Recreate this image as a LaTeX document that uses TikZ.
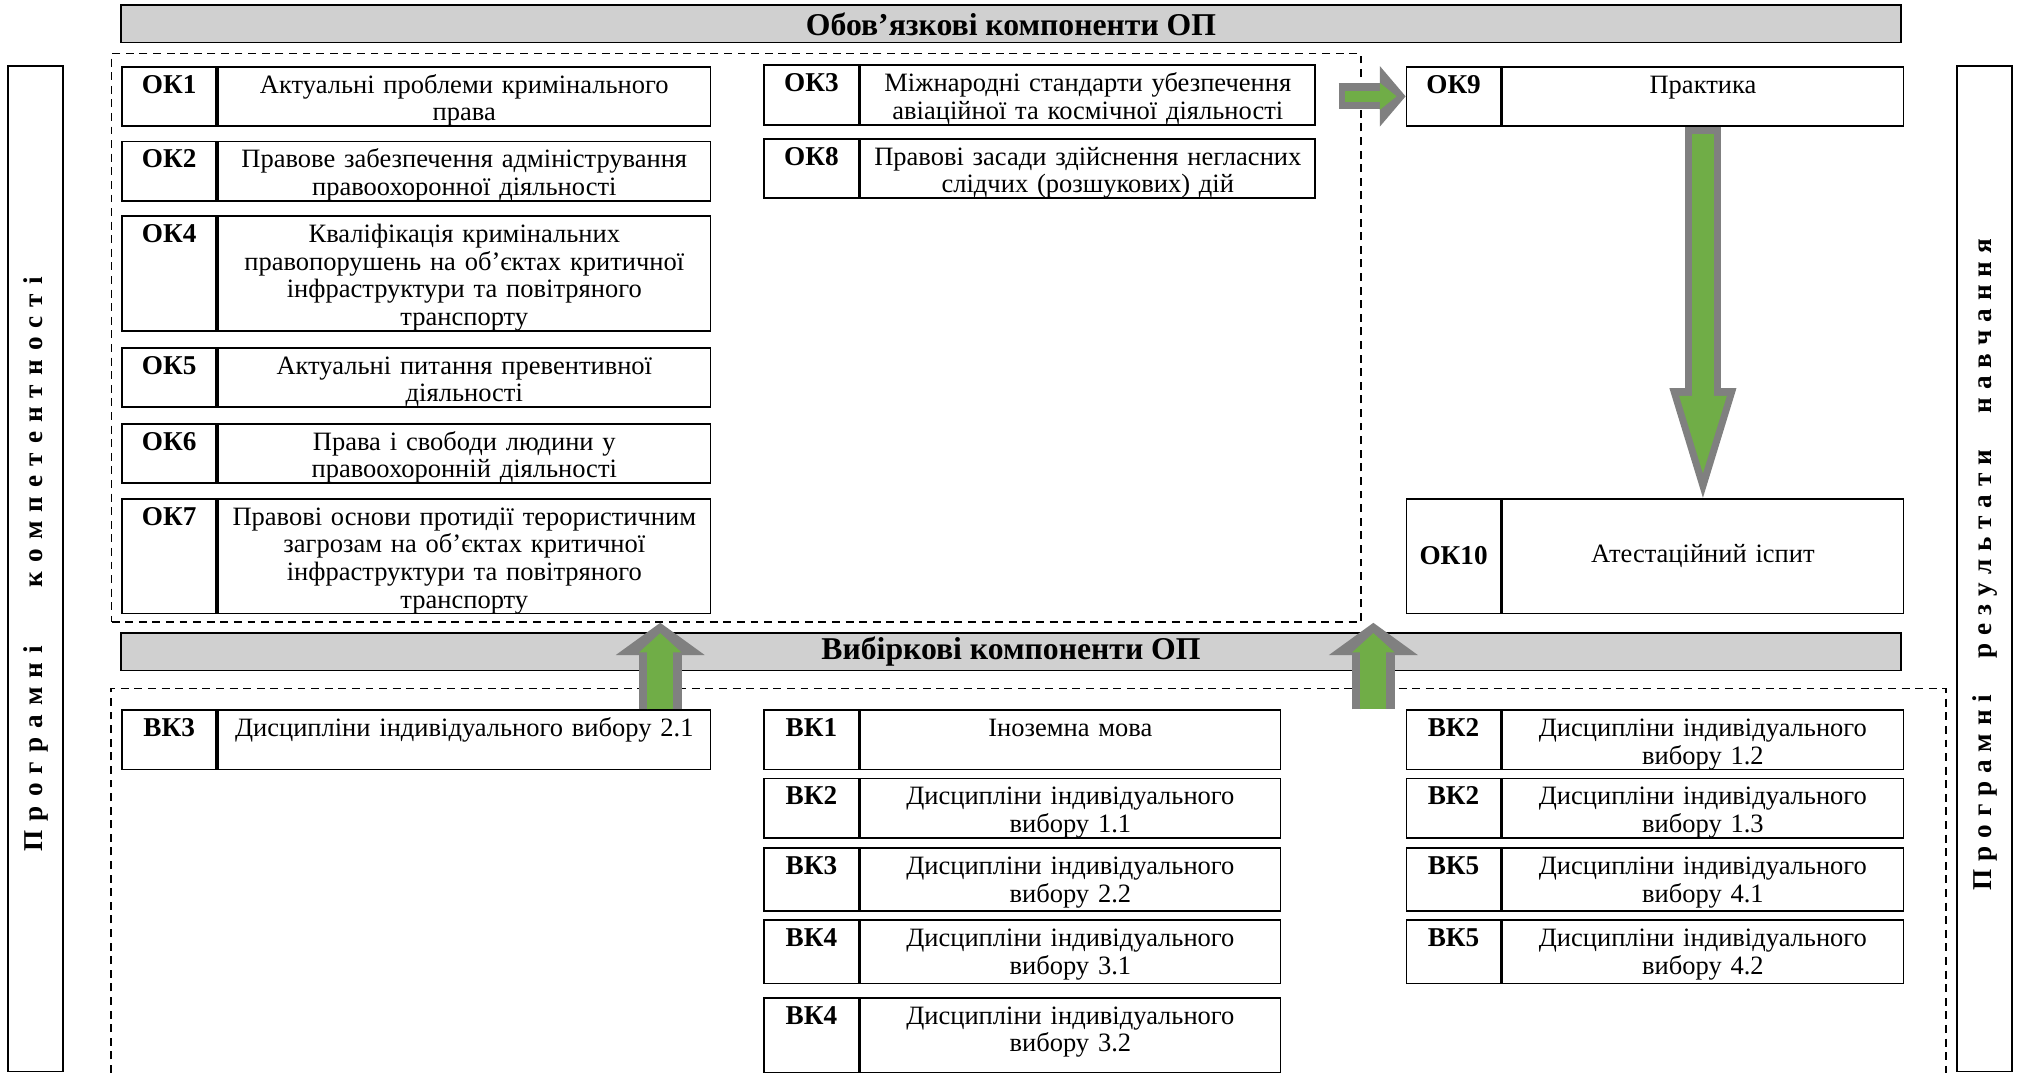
\documentclass[tikz,border=0pt]{standalone}
\usepackage{fontspec}
\setmainfont{Liberation Serif}
\usetikzlibrary{arrows.meta}

\definecolor{barfill}{RGB}{208,208,208}
\definecolor{arrgreen}{RGB}{112,173,71}
\definecolor{arrgray}{RGB}{128,128,128}

\newcommand{\boxfont}{\fontsize{11.7}{12.2}\selectfont}
\newcommand{\codefont}{\fontsize{12}{12.2}\selectfont\bfseries}
\newcommand{\wideletters}[1]{\spaceskip=#1\relax}

\tikzset{
	cell/.style={draw, thick, anchor=north west, inner sep=0pt, align=center},
	codecell/.style={cell, font=\codefont, text width=1.46cm},
	txtcell/.style={cell, text width=#1},
	toptext/.style={text height=0.41cm, text depth=#1},
	bar/.style={draw, thick, fill=barfill, font=\fontsize{14}{14}\selectfont\bfseries, minimum width=27.6cm, minimum height=0.58cm, inner sep=0pt},
	sidebar/.style={draw, thick, rotate=90, font=\codefont, minimum width=15.6cm, minimum height=0.86cm, inner sep=0pt},
	area/.style={draw, semithick, dash pattern=on 3.5pt off 2.5pt},
	% fat arrows: grey outline first, green inside
	downOut/.style={arrgray, line width=0.56cm, -{Triangle[length=1.7cm, width=1.04cm, line width=0pt]}},
	downIn/.style={arrgreen, line width=0.34cm, -{Triangle[length=1.2cm, width=0.74cm, line width=0pt]}, shorten <=0.11cm, shorten >=0.38cm},
	upOut/.style={arrgray, line width=0.66cm, -{Triangle[length=0.5cm, width=1.38cm, line width=0pt]}},
	upIn/.style={arrgreen, line width=0.4cm, -{Triangle[length=0.3cm, width=0.66cm, line width=0pt]}, shorten >=0.16cm},
	rightOut/.style={arrgray, line width=0.4cm, -{Triangle[length=0.4cm, width=0.94cm, line width=0pt]}},
	rightIn/.style={arrgreen, line width=0.18cm, -{Triangle[length=0.26cm, width=0.42cm, line width=0pt]}, shorten <=0.1cm, shorten >=0.14cm}
}

\begin{document}
\begin{tikzpicture}[x=0.02cm, y=-0.02cm, font=\boxfont]
	\useasboundingbox (0,0) rectangle (1568,832);
	
	\pgfmathsetmacro\xL{94}   % left column
	\pgfmathsetmacro\xM{592}  % middle column
	\pgfmathsetmacro\xR{1090} % right column
	
	%headers and side bars
	\node (obovBar) at (784,18.5) [bar] {Обов’язкові компоненти ОП};
	\node (vybBar) at (784,505.5) [bar] {Вибіркові компоненти ОП};
	
	\node (kompBar) at (27.5,441) [sidebar] {\wideletters{4pt} П р о г р а м н і \hspace{18pt} к о м п е т е н т н о с т і};
	\node (resBar) at (1539,441) [sidebar] {\wideletters{3.5pt} П р о г р а м н і \hspace{9pt} р е з у л ь т а т и \hspace{9pt} н а в ч а н н я};
	
	%dashed areas
	\node (okArea) at (86,41) [area, anchor=north west, minimum width=19.38cm, minimum height=8.82cm, inner sep=0pt] {};
	\draw[area] (86,832) |- (1509,534) -- (1509,832);
	
	%obligatory, left column
	\node (ok1Code) at (\xL,51) [codecell, toptext=0.51cm] {ОК1};
	\node (ok1) at (ok1Code.north east) [txtcell=7.64cm, toptext=0.51cm] {Актуальні проблеми кримінального\\права};
	\node (ok2Code) at (\xL,109) [codecell, toptext=0.51cm] {ОК2};
	\node (ok2) at (ok2Code.north east) [txtcell=7.64cm, toptext=0.51cm] {Правове забезпечення адміністрування\\правоохоронної діяльності};
	\node (ok4Code) at (\xL,167) [codecell, toptext=1.37cm] {ОК4};
	\node (ok4) at (ok4Code.north east) [txtcell=7.64cm, toptext=1.37cm] {Кваліфікація кримінальних\\правопорушень на об’єктах критичної\\інфраструктури та повітряного\\транспорту};
	\node (ok5Code) at (\xL,269) [codecell, toptext=0.51cm] {ОК5};
	\node (ok5) at (ok5Code.north east) [txtcell=7.64cm, toptext=0.51cm] {Актуальні питання превентивної\\діяльності};
	\node (ok6Code) at (\xL,328) [codecell, toptext=0.51cm] {ОК6};
	\node (ok6) at (ok6Code.north east) [txtcell=7.64cm, toptext=0.51cm] {Права і свободи людини у\\правоохоронній діяльності};
	\node (ok7Code) at (\xL,386) [codecell, toptext=1.37cm] {ОК7};
	\node (ok7) at (ok7Code.north east) [txtcell=7.64cm, toptext=1.37cm] {Правові основи протидії терористичним\\загрозам на об’єктах критичної\\інфраструктури та повітряного\\транспорту};
	
	%obligatory, middle column
	\node (ok3Code) at (\xM,50) [codecell, toptext=0.51cm] {ОК3};
	\node (ok3) at (ok3Code.north east) [txtcell=7.06cm, toptext=0.51cm] {Міжнародні стандарти убезпечення\\авіаційної та космічної діяльності};
	\node (ok8Code) at (\xM,107) [codecell, toptext=0.51cm] {ОК8};
	\node (ok8) at (ok8Code.north east) [txtcell=7.06cm, toptext=0.51cm] {Правові засади здійснення негласних\\слідчих (розшукових) дій};
	
	%obligatory, right column
	\node (ok9Code) at (\xR,51) [codecell, toptext=0.51cm] {ОК9};
	\node (ok9) at (ok9Code.north east) [txtcell=6.22cm, toptext=0.51cm] {Практика};
	\node (ok10Code) at (\xR,386) [codecell, minimum height=1.78cm] {ОК10};
	\node (ok10) at (ok10Code.north east) [txtcell=6.22cm, minimum height=1.78cm] {Атестаційний іспит};
	
	%elective, left column
	\node (vkL1Code) at (\xL,550) [codecell, toptext=0.51cm] {ВК3};
	\node (vkL1) at (vkL1Code.north east) [txtcell=7.64cm, toptext=0.51cm] {Дисципліни індивідуального вибору 2.1};
	
	%elective, middle column
	\node (vkM1Code) at (\xM,550) [codecell, toptext=0.51cm] {ВК1};
	\node (vkM1) at (vkM1Code.north east) [txtcell=6.52cm, toptext=0.51cm] {Іноземна мова};
	\node (vkM2Code) at (\xM,603) [codecell, toptext=0.51cm] {ВК2};
	\node (vkM2) at (vkM2Code.north east) [txtcell=6.52cm, toptext=0.51cm] {Дисципліни індивідуального\\вибору 1.1};
	\node (vkM3Code) at (\xM,657) [codecell, toptext=0.57cm] {ВК3};
	\node (vkM3) at (vkM3Code.north east) [txtcell=6.52cm, toptext=0.57cm] {Дисципліни індивідуального\\вибору 2.2};
	\node (vkM4Code) at (\xM,713) [codecell, toptext=0.57cm] {ВК4};
	\node (vkM4) at (vkM4Code.north east) [txtcell=6.52cm, toptext=0.57cm] {Дисципліни індивідуального\\вибору 3.1};
	\node (vkM5Code) at (\xM,773) [codecell, toptext=0.75cm] {ВК4};
	\node (vkM5) at (vkM5Code.north east) [txtcell=6.52cm, toptext=0.75cm] {Дисципліни індивідуального\\вибору 3.2};
	
	%elective, right column
	\node (vkR1Code) at (\xR,550) [codecell, toptext=0.51cm] {ВК2};
	\node (vkR1) at (vkR1Code.north east) [txtcell=6.22cm, toptext=0.51cm] {Дисципліни індивідуального\\вибору 1.2};
	\node (vkR2Code) at (\xR,603) [codecell, toptext=0.51cm] {ВК2};
	\node (vkR2) at (vkR2Code.north east) [txtcell=6.22cm, toptext=0.51cm] {Дисципліни індивідуального\\вибору 1.3};
	\node (vkR3Code) at (\xR,657) [codecell, toptext=0.57cm] {ВК5};
	\node (vkR3) at (vkR3Code.north east) [txtcell=6.22cm, toptext=0.57cm] {Дисципліни індивідуального\\вибору 4.1};
	\node (vkR4Code) at (\xR,713) [codecell, toptext=0.57cm] {ВК5};
	\node (vkR4) at (vkR4Code.north east) [txtcell=6.22cm, toptext=0.57cm] {Дисципліни індивідуального\\вибору 4.2};
	
	%fat arrows
	\coordinate (rightGo) at (1038,0);
	\draw[rightOut] (rightGo |- ok9Code.west) -- (ok9Code.west);
	\draw[rightIn] (rightGo |- ok9Code.west) -- (ok9Code.west);
	
	\draw[downOut] (ok9.south) -- (ok10.north);
	\draw[downIn] (ok9.south) -- (ok10.north);
	
	\coordinate (upA) at (512,0);
	\coordinate (upB) at (1065,0);
	\draw[upOut] (upA |- vkL1.north) -- (upA |- okArea.south);
	\draw[upIn] (upA |- vkL1.north) -- (upA |- okArea.south);
	\draw[upOut] (upB |- vkR1.north) -- (upB |- okArea.south);
	\draw[upIn] (upB |- vkR1.north) -- (upB |- okArea.south);
	
\end{tikzpicture}
\end{document}
